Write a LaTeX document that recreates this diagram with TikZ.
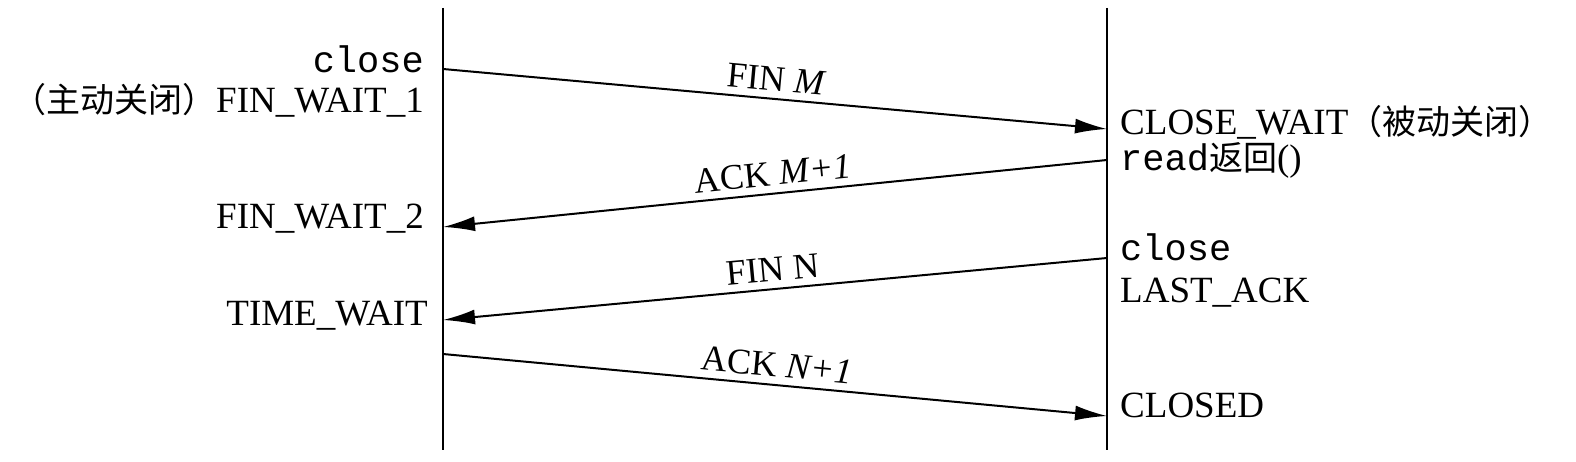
\documentclass[tikz,border=0pt]{standalone}
\usepackage{fontspec}
\setmainfont{Liberation Serif}
\setmonofont{Liberation Mono}
\newfontfamily\cjkfam{Noto Sans CJK SC}
\newcommand{\cjk}{\cjkfam\fontsize{34}{40}\selectfont}
\usetikzlibrary{arrows.meta}
\begin{document}
\begin{tikzpicture}[x=1pt,y=-1pt,
  lifeline/.style={line width=2pt},
  msg/.style={line width=2pt,-{Latex[length=32pt,width=15pt]}},
  lbl/.style={font=\fontsize{37}{42}\selectfont,inner sep=2pt},
  mlbl/.style={font=\fontsize{36}{40}\selectfont,above,sloped,midway,inner sep=7pt},
  lstate/.style={lbl,anchor=mid east},
  rstate/.style={lbl,anchor=mid west}]
\useasboundingbox[fill=white] (0,0) rectangle (1576,462);
% lifelines
\coordinate (Ltop) at (443,8);
\coordinate (Lbot) at (443,450);
\coordinate (Rtop) at (1107,8);
\coordinate (Rbot) at (1107,450);
\draw[lifeline] (Ltop) -- (Lbot);
\draw[lifeline] (Rtop) -- (Rbot);
% message end points
\coordinate (a1) at (443,69);
\coordinate (a2) at (1107,129);
\coordinate (b1) at (1107,160);
\coordinate (b2) at (443,227);
\coordinate (c1) at (1107,258);
\coordinate (c2) at (443,320);
\coordinate (d1) at (443,354);
\coordinate (d2) at (1107,416);
\draw[msg] (a1) -- node[mlbl] (m1) {FIN \textit{M}} (a2);
\draw[msg] (b1) -- node[mlbl] (m2) {ACK~\textit{M+1}} (b2);
\draw[msg] (c1) -- node[mlbl] (m3) {FIN N} (c2);
\draw[msg] (d1) -- node[mlbl] (m4) {ACK~\textit{N+1}} (d2);
% left states
\node[lstate] (lclose) at (426,70) {\texttt{close}};
\node[lstate] (fw1) at (426,110) {{\cjk （主动关闭）}FIN\_WAIT\_1};
\node[lstate] (fw2) at (426,226) {FIN\_WAIT\_2};
\node[lstate] (tw) at (430,323) {TIME\_WAIT};
% right states
\node[rstate] (cw) at (1118,132) {CLOSE\_WAIT{\cjk （被动关闭）}};
\node[rstate] (rd) at (1118,168) {\texttt{read}{\cjk 返回}()};
\node[rstate] (rclose) at (1118,258) {\texttt{close}};
\node[rstate] (la) at (1118,300) {LAST\_ACK};
\node[rstate] (cl) at (1118,415) {CLOSED};
\end{tikzpicture}
\end{document}
